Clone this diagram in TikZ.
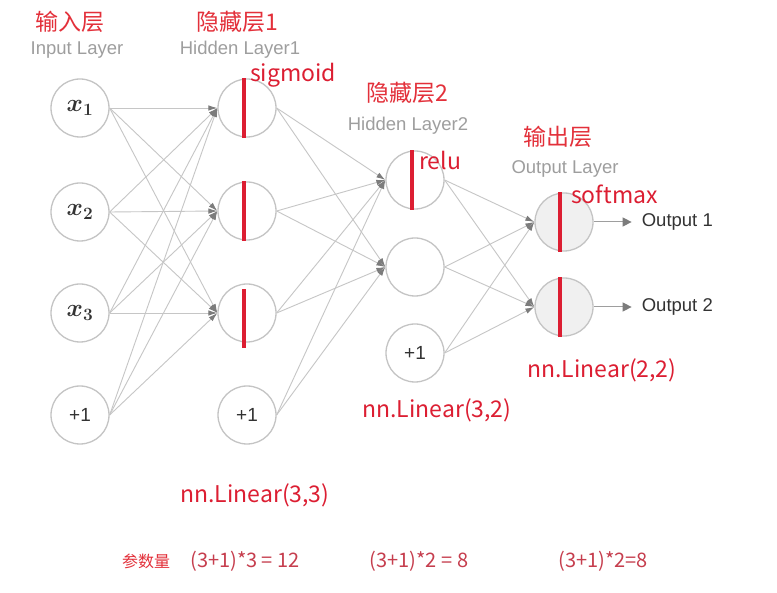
\documentclass[tikz,border=0pt]{standalone}
\usepackage{fontspec}
\setmainfont{Liberation Sans}
\newfontfamily\cjk{Noto Sans CJK SC}
\usepackage{tikz}
\usetikzlibrary{arrows.meta,positioning}
\definecolor{nnring}{HTML}{C4C4C4}
\definecolor{nnwire}{HTML}{C6C6C6}
\definecolor{nntip}{HTML}{7C7C7C}
\definecolor{nnfill}{HTML}{F0F0F0}
\definecolor{nntext}{HTML}{333333}
\definecolor{nngray}{HTML}{9E9E9E}
\definecolor{nnred}{HTML}{E3303A}
\definecolor{nnact}{HTML}{DC1E32}
\definecolor{nnsum}{HTML}{C63E4E}
\tikzset{
  neuron/.style={circle, draw=nnring, line width=1.3pt, fill=white, minimum size=58pt, inner sep=0pt, text=nntext, font=\fontsize{19}{22}\selectfont},
  inneuron/.style={neuron, font=\fontsize{24}{28}\selectfont\boldmath},
  outneuron/.style={neuron, fill=nnfill},
  wire/.style={-{Latex[length=9pt,width=5.5pt,color=nntip]}, draw=nnwire, line width=0.9pt},
  outwire/.style={-{Triangle[length=9pt,width=9pt,color=nntip]}, draw=nngray, line width=1pt},
  actline/.style={draw=nnact, line width=3.6pt},
  layerzh/.style={text=nnred, font=\cjk\fontsize{23}{26}\selectfont},
  layeren/.style={text=nngray, font=\fontsize{18.5}{21}\selectfont},
  redlabel/.style={text=nnact, font=\cjk\fontsize{23}{26}\selectfont, inner sep=0pt},
  outlabel/.style={text=nntext, font=\fontsize{18.5}{21}\selectfont, inner sep=0pt},
  sumlabel/.style={text=nnsum, font=\cjk\fontsize{20}{24}\selectfont}
}
\begin{document}
\begin{tikzpicture}[x=1pt, y=-1pt]
  \fill[white] (0,0) rectangle (777,593);
  \useasboundingbox (0,0) rectangle (777,593);
  % layer titles
  \node[layerzh] (inzh) at (70,22) {输入层};
  \node[layeren] (inen) at (77,50) {Input Layer};
  \node[layerzh] (h1zh) at (237,22) {隐藏层1};
  \node[layeren] (h1en) at (240,50) {Hidden Layer1};
  \node[layerzh] (h2zh) at (407,93) {隐藏层2};
  \node[layeren] (h2en) at (408,126) {Hidden Layer2};
  \node[layerzh] (outzh) at (558,137) {输出层};
  \node[layeren] (outen) at (565,169) {Output Layer};
  % neurons
  \node[inneuron] (in1) at (80,108) {\(x_1\)};
  \node[inneuron] (in2) at (80,212) {\(x_2\)};
  \node[inneuron] (in3) at (80,313) {\(x_3\)};
  \node[neuron] (in4) at (80,415) {+1};
  \node[neuron] (h11) at (247,108) {};
  \node[neuron] (h12) at (247,211) {};
  \node[neuron] (h13) at (247,313) {};
  \node[neuron] (h14) at (247,415) {+1};
  \node[neuron] (h21) at (415,180) {};
  \node[neuron] (h22) at (415,267) {};
  \node[neuron] (h23) at (415,353) {+1};
  \node[outneuron] (o1) at (564,222) {};
  \node[outneuron] (o2) at (564,307) {};
  % weights
  \foreach \s in {in1,in2,in3,in4}
    \foreach \t in {h11,h12,h13}
      \draw[wire] (\s.east) -- (\t.west);
  \foreach \s in {h11,h12,h13,h14}
    \foreach \t in {h21,h22}
      \draw[wire] (\s.east) -- (\t.west);
  \foreach \s in {h21,h22,h23}
    \foreach \t in {o1,o2}
      \draw[wire] (\s.east) -- (\t.west);
  % outputs
  \node[outlabel, right=48pt of o1] (res1) {Output 1};
  \node[outlabel, right=48pt of o2] (res2) {Output 2};
  \draw[outwire] (o1) -- ([xshift=-10pt]res1.west);
  \draw[outwire] (o2) -- ([xshift=-10pt]res2.west);
  % activations
  \draw[actline] ([xshift=-3pt]h11.north) -- ([xshift=-3pt]h11.south);
  \draw[actline] ([xshift=-3pt]h12.north) -- ([xshift=-3pt]h12.south);
  \draw[actline] ([shift={(-3pt,-6pt)}]h13.north) -- ([shift={(-3pt,-5pt)}]h13.south);
  \draw[actline] ([xshift=-3pt]h21.north) -- ([xshift=-3pt]h21.south);
  \draw[actline] ([xshift=-4pt]o1.north) -- ([xshift=-4pt]o1.south);
  \draw[actline] ([xshift=-4pt]o2.north) -- ([xshift=-4pt]o2.south);
  \node[redlabel, anchor=west] (sig) at (250,75) {sigmoid};
  \node[redlabel, anchor=west] (relu) at (419,160) {relu};
  \node[redlabel, anchor=west] (soft) at (571,194) {softmax};
  % linear layers
  \node[redlabel] (lin1) at (255,495) {nn.Linear(3,3)};
  \node[redlabel] (lin2) at (437,410) {nn.Linear(3,2)};
  \node[redlabel] (lin3) at (602,370) {nn.Linear(2,2)};
  % parameter counts
  \node[sumlabel, text=nnred, font=\cjk\fontsize{16}{19}\selectfont] (cnt) at (146,561) {参数量};
  \node[sumlabel] (cnt1) at (245,561) {(3+1)*3 = 12};
  \node[sumlabel] (cnt2) at (419,561) {(3+1)*2 = 8};
  \node[sumlabel] (cnt3) at (603,561) {(3+1)*2=8};
\end{tikzpicture}
\end{document}
